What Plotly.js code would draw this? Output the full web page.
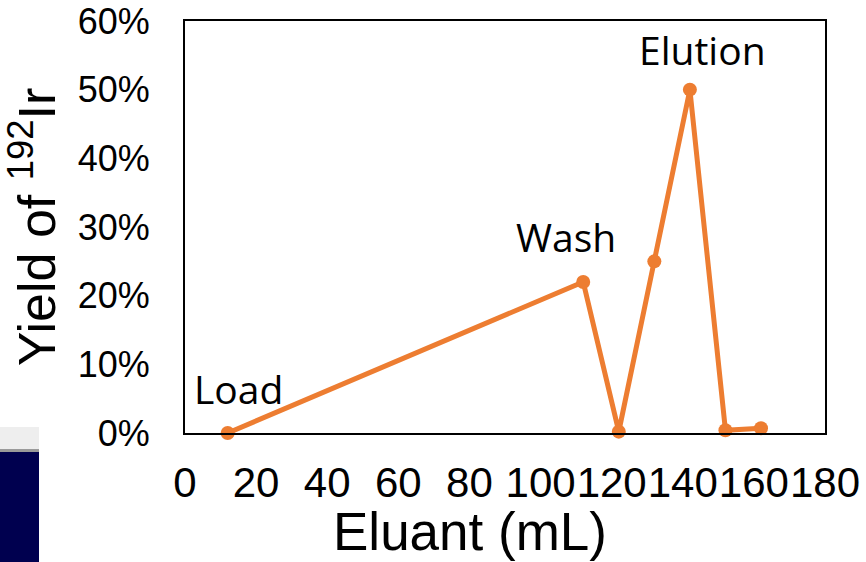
<!DOCTYPE html>
<html>
<head>
<meta charset="utf-8">
<script src="https://cdn.plot.ly/plotly-3.0.1.min.js"></script>
<style>html,body{margin:0;padding:0;background:#fff;}#chart{width:866px;height:562px;}</style>
</head>
<body>
<div id="chart"></div>
<script>
// Data
const eluantML = [12, 112, 122, 132, 142, 152, 162];
const yieldIr = [0.0, 0.22, 0.002, 0.25, 0.50, 0.004, 0.007];
const xTickVals = [0, 20, 40, 60, 80, 100, 120, 140, 160, 180];
const yTickVals = [0, 0.1, 0.2, 0.3, 0.4, 0.5, 0.6];
const phaseLabels = ["Load", "Wash", "Elution"];
const phasePointIndex = [0, 1, 4];
const xTitle = 'Eluant (mL)';
const yTitle = 'Yield of <sup>192</sup>Ir';

const orange = '#ED7D31';
const arial = 'Arial, "Liberation Sans", sans-serif';

const trace = {
  x: eluantML, y: yieldIr, type: 'scatter', mode: 'lines+markers',
  line: {color: orange, width: 5},
  marker: {color: orange, size: 14},
  cliponaxis: false, hoverinfo: 'skip'
};

const L = 185, R = 825, T = 21, B = 433;
const px2x = p => (p - L) / (R - L);
const py2y = p => (B - p) / (B - T);

const shifts = [[11, 45], [-17, 45], [13, 40]];
const annotations = phaseLabels.map((t, i) => ({
  x: eluantML[phasePointIndex[i]], y: yieldIr[phasePointIndex[i]],
  xref: 'x', yref: 'y', text: t, showarrow: false,
  xshift: shifts[i][0], yshift: shifts[i][1],
  xanchor: 'center', yanchor: 'middle',
  font: {family: '"Open Sans", sans-serif', size: 39, color: '#000'}
}));
annotations.push({
  xref: 'paper', yref: 'paper', x: px2x(470), y: py2y(531),
  xanchor: 'center', yanchor: 'middle', showarrow: false,
  text: xTitle, font: {family: arial, size: 53, color: '#000'}
});

const shapes = [
  {type: 'rect', xref: 'paper', yref: 'paper', x0: px2x(0), x1: px2x(39), y0: py2y(427), y1: py2y(449),
   fillcolor: '#eeeeee', line: {width: 0}, layer: 'below'},
  {type: 'rect', xref: 'paper', yref: 'paper', x0: px2x(0), x1: px2x(39), y0: py2y(449), y1: py2y(452),
   fillcolor: '#9a9a9a', line: {width: 0}, layer: 'below'},
  {type: 'rect', xref: 'paper', yref: 'paper', x0: px2x(0), x1: px2x(39), y0: py2y(452), y1: py2y(562),
   fillcolor: '#00004f', line: {width: 0}, layer: 'below'}
];

const layout = {
  width: 866, height: 562,
  margin: {l: L, r: 866 - R, t: T, b: 562 - B, pad: 0},
  paper_bgcolor: '#fff', plot_bgcolor: '#fff',
  showlegend: false,
  xaxis: {
    range: [0, 180], tickvals: xTickVals, ticktext: xTickVals.map(String),
    showgrid: false, zeroline: false, showline: true, mirror: true,
    linecolor: '#000', linewidth: 2, ticks: '', tickangle: 0,
    tickfont: {family: arial, size: 42, color: '#000'},
    ticklabelstandoff: 12,
    automargin: false
  },
  yaxis: {
    range: [0, 0.6], tickvals: yTickVals, tickformat: '.0%',
    showgrid: false, zeroline: false, showline: true, mirror: true,
    linecolor: '#000', linewidth: 2, ticks: '',
    tickfont: {family: arial, size: 36, color: '#000'},
    ticklabelstandoff: 26,
    title: {text: yTitle, font: {family: arial, size: 52, color: '#000'}, standoff: 6},
    automargin: false
  },
  annotations: annotations,
  shapes: shapes
};

Plotly.newPlot('chart', [trace], layout, {staticPlot: true, displayModeBar: false});
</script>
</body>
</html>
